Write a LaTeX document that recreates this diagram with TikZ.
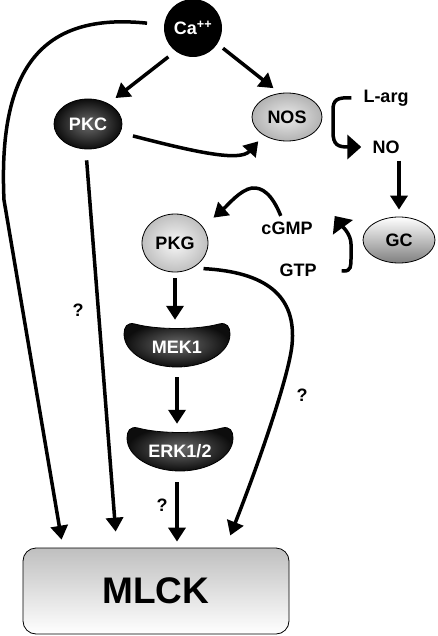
\documentclass[tikz,border=0pt]{standalone}
\usepackage{fontspec}
\setmainfont{Liberation Sans}
\usetikzlibrary{arrows.meta,shapes.geometric,calc}
\begin{document}
\begin{tikzpicture}[x=1pt,y=-1pt,
  lbl/.style={font=\bfseries\fontsize{18}{21}\selectfont, inner sep=0pt},
  arr/.style={line width=3.5pt, -{Triangle[length=14pt,width=17pt]}},
  bigarr/.style={line width=3.5pt, -{Triangle[length=14pt,width=24pt]}},
  ell/.style={ellipse, draw=black, line width=0.8pt, lbl},
  darkshade/.style={draw=black, line width=0.8pt, inner color=black!58, outer color=black!95},
  bean/.style={lbl, text=white, minimum width=104pt, minimum height=44pt}
]
\useasboundingbox (0,0) rectangle (437,636);

% bean shapes (MEK1, ERK1/2)
\shadedraw[darkshade, shift={(177,345)}]
  (-42,-21) .. controls (-20,-15) and (20,-15) .. (42,-21)
  .. controls (50,-23) and (53,-18) .. (53,-11)
  .. controls (53,8) and (28,22) .. (0,22)
  .. controls (-28,22) and (-53,8) .. (-53,-11)
  .. controls (-53,-18) and (-50,-23) .. (-42,-21) -- cycle;
\shadedraw[darkshade, shift={(180,449)}]
  (-42,-21) .. controls (-20,-15) and (20,-15) .. (42,-21)
  .. controls (50,-23) and (53,-18) .. (53,-11)
  .. controls (53,8) and (28,22) .. (0,22)
  .. controls (-28,22) and (-53,8) .. (-53,-11)
  .. controls (-53,-18) and (-50,-23) .. (-42,-21) -- cycle;

% nodes
\node[circle, fill=black, minimum size=58pt, lbl, text=white] (ca) at (193,28) {Ca\textsuperscript{++}};
\node[ell, minimum width=68pt, minimum height=50pt, text=white, inner color=black!58, outer color=black!95] (pkc) at (88,124) {PKC};
\node[ell, minimum width=70pt, minimum height=48pt, inner color=black!8, outer color=black!30] (nos) at (287,117) {NOS};
\node[lbl] (larg) at (386,98) {L-arg};
\node[lbl] (no) at (386,147) {NO};
\node[ell, minimum width=72pt, minimum height=46pt, top color=white, bottom color=black!50] (gc) at (399,240) {GC};
\node[lbl] (cgmp) at (287,228) {cGMP};
\node[lbl] (gtp) at (298,270) {GTP};
\node[ell, minimum width=66pt, minimum height=58pt, inner color=black!3, outer color=black!25] (pkg) at (175,243) {PKG};
\node[bean] (mek) at (177,347) {MEK1};
\node[bean] (erk) at (180,451) {ERK1/2};
\node[draw=black, line width=0.8pt, rounded corners=13pt, minimum width=266pt, minimum height=86pt,
      top color=black!25, bottom color=white, font=\bfseries\fontsize{37}{40}\selectfont] (mlck) at (156,591) {MLCK};
\node[lbl] (q1) at (78,310) {?};
\node[lbl] (q2) at (302,395) {?};
\node[lbl] (q3) at (162,505) {?};

% connectors
\draw[arr, shorten <=9pt, shorten >=9pt] (ca.-127) -- (pkc.45);
\draw[arr, shorten <=7pt, shorten >=8pt] (ca.-33) -- (nos.107);
\draw[arr, shorten <=17pt, shorten >=8pt] (ca.174) .. controls (40,12) and (-2,70) .. (4,200) -- (mlck.155);
\draw[arr, shorten <=13pt, shorten >=8pt] (pkc.-15) .. controls (195,152) and (240,162) .. (nos.218);
\draw[arr, shorten <=11pt, shorten >=16pt] (pkc.-95) -- (mlck.132);
\draw[bigarr] ([xshift=-12pt]larg.west) .. controls (337,97) and (333,100) .. (333,110) -- (333,132)
  .. controls (333,145) and (338,147) .. ([xshift=-11pt]no.west);
\draw[arr, shorten <=7pt, shorten >=7pt] (no.south -| gc.north) -- (gc.north);
\draw[bigarr, shorten <=25pt] (gtp.east) -- (344,271) .. controls (351,271) and (351,266) .. (351,258) -- (351,244)
  .. controls (351,234) and (342,226) .. ([xshift=22pt,yshift=12pt]cgmp.east);
\draw[arr, shorten <=6pt, shorten >=14pt] ([xshift=-4pt]cgmp.north) .. controls (272,194) and (262,187) .. (252,188)
  .. controls (240,190) and (228,205) .. (pkg.30);
\draw[arr, shorten <=6pt, shorten >=5pt] (pkg.south) -- (pkg.south |- mek.north);
\draw[arr, shorten <=8pt, shorten >=5pt] (mek.south) -- (mek.south |- erk.north);
\draw[arr, shorten <=9pt, shorten >=6pt] (erk.south -| mek.south) -- (mlck.north -| mek.south);
\draw[arr, shorten <=11pt, shorten >=13pt] (pkg.-55) .. controls (265,272) and (297,295) .. (292,345)
  .. controls (289,375) and (260,460) .. (mlck.32);
\end{tikzpicture}
\end{document}
